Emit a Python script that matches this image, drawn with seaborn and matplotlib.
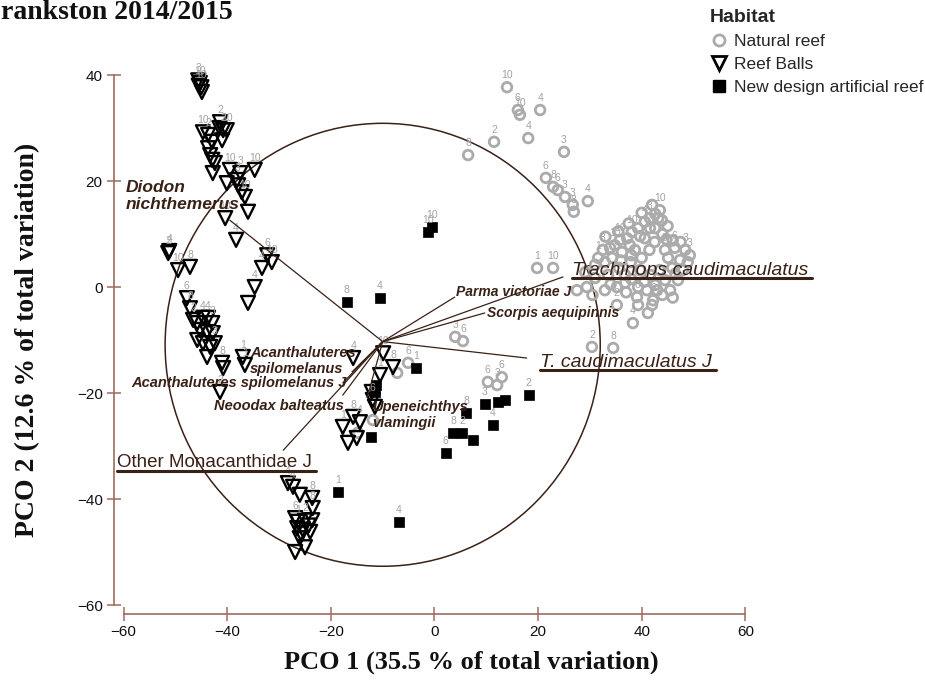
import pandas as pd
import matplotlib
matplotlib.use('Agg')
import matplotlib.pyplot as plt
from matplotlib.lines import Line2D
from matplotlib.patches import Ellipse
import seaborn as sns

# PCO scores, one set of lists per habitat
nat_x = [14.0, 16.1, 16.5, 20.4, 18.1, 11.5, 6.5, 25.0, 21.5, 22.9, 23.8, 25.2, 26.7, 26.9, 29.6,
         19.8, 22.9, 27.5, 29.4, 32.9, 35.2, 36.8, 39.3, 41.0, 43.0, 39.1, 42.2, 39.3, 42.0, 38.3,
         41.2, 35.2, 30.4, 34.5,
         31.6, 32.5, 33.9, 34.8, 35.8, 37.2, 38.1, 39.3, 40.6, 41.6, 42.6, 43.5, 43.2, 41.6, 39.7,
         37.7, 36.2, 34.3, 32.9, 31.0, 40.6, 42.6, 43.9, 38.7,
         44.5, 46.4, 48.4, 49.3, 45.1, 47.4, 48.9, 45.9, 48.0, 43.5, 41.6, 44.5, 47.0, 42.6, 45.5,
         39.7, 37.9, 35.6, 33.5, 31.0, 29.1, 36.8,
         36.0, 38.0, 40.0, 41.5, 42.5, 44.0, 45.0, 44.8, 46.0, 47.5, 46.5, 44.0, 46.0, 40.5, 38.0,
         34.0, 30.5, 37.0, 33.0, 35.5, 37.5, 40.0, 42.0,
         4.0, 5.5, -5.1, -7.2, 10.3, 13.0, 12.1, -11.9, -14.8]
nat_y = [37.7, 33.4, 32.5, 33.4, 28.1, 27.4, 24.9, 25.5, 20.6, 18.9, 18.3, 17.0, 15.5, 14.2, 16.2,
         3.6, 3.6, -0.6, 0.0, -0.6, 0.0, 0.8, 0.0, -0.6, -0.6, -1.9, -2.5, -3.4, -3.4, -6.8,
         -4.9, -3.4, -11.3, -11.5,
         5.5, 7.0, 7.4, 7.9, 8.9, 9.2, 10.4, 11.1, 12.3, 13.0, 13.8, 14.5, 13.0, 11.1, 9.6,
         7.9, 6.6, 5.5, 4.7, 4.2, 9.2, 11.1, 12.6, 7.0,
         7.0, 7.4, 7.0, 6.0, 5.5, 5.1, 4.7, 3.6, 3.2, 3.2, 2.3, 1.3, 1.3, 0.4, -0.6,
         3.2, 4.7, 3.6, 2.3, 1.7, 2.8, 2.3,
         5.0, 6.0, 5.5, 7.0, 8.5, 10.0, 11.5, 9.0, 8.8, 8.5, 2.5, -1.5, -2.0, 1.0, 1.5,
         0.5, -1.5, -1.0, 9.5, 10.5, 12.0, 14.0, 15.5,
         -9.4, -10.2, -14.3, -16.2, -17.9, -17.0, -18.5, -25.1, -27.5]
nat_lab = ['10', '6', '10', '4', '4', '2', '8', '3', '6', '8', '6', '3', '3', '8', '4',
           '1', '10', '', '', '', '', '', '', '', '', '8', '6', '', '', '4',
           '', '2', '2', '8',
           '1', '8', '', '10', '10', '', '10', '', '4', '3', '', '10', '', '', '',
           '', '', '', '', '', '', '', '', '',
           '3', '6', '3', '3', '', '', '', '', '', '', '', '', '', '', '',
           '', '', '', '', '', '', '',
           '', '', '', '', '', '', '', '', '', '', '', '', '', '', '',
           '', '', '', '', '', '', '', '',
           '3', '6', '6', '', '6', '6', '3', '', '']

rb_x = [-45.6, -45.3, -45.0, -44.9, -45.5,
        -44.7, -43.7, -41.4, -40.8, -40.1, -41.0, -42.9, -41.5,
        -43.7, -43.3, -42.9, -42.4, -42.8,
        -39.5, -37.5, -34.7, -40.1, -38.1, -37.9, -37.2, -36.6, -36.0, -40.4, -38.3,
        -32.3, -31.4, -33.3, -34.7, -36.0,
        -51.4, -51.2, -49.5, -47.2,
        -47.8, -47.2, -46.6, -45.8, -44.7, -43.7, -42.9, -45.3, -43.9, -42.8, -45.8, -44.7,
        -43.3, -42.4, -43.9, -41.0, -40.8, -41.4, -37.0, -36.6,
        -15.7, -9.9, -8.0, -10.5, -12.1, -11.9, -11.5, -15.7, -14.4, -17.7, -15.0, -16.7,
        -28.3, -27.3, -26.0, -23.6, -23.5, -26.9, -26.4, -25.0, -23.6, -26.5, -25.4, -24.0,
        -26.0, -25.0, -26.9, -24.3, -25.8]
rb_y = [39.0, 38.5, 37.7, 36.8, 38.0,
        29.2, 28.7, 31.1, 29.6, 29.6, 27.7, 27.4, 30.0,
        26.2, 24.9, 24.0, 23.4, 21.5,
        22.1, 21.5, 22.1, 19.6, 20.2, 19.2, 17.9, 17.0, 14.2, 13.0, 8.9,
        6.0, 4.7, 3.6, 0.0, -3.0,
        6.4, 6.8, 3.2, 3.8,
        -2.1, -4.0, -6.2, -6.8, -5.8, -5.8, -6.8, -8.1, -8.5, -8.7, -10.0, -10.6,
        -11.3, -10.6, -13.2, -14.3, -15.3, -19.8, -13.2, -14.7,
        -13.4, -12.5, -15.1, -16.6, -19.8, -21.3, -22.6, -24.5, -25.5, -26.4, -28.5, -29.4,
        -37.0, -37.7, -39.2, -39.8, -41.7, -43.6, -44.3, -44.0, -44.0, -45.5, -45.8, -46.2,
        -47.4, -49.1, -50.0, -45.0, -46.5]
rb_lab = ['3', '10', '10', '', '',
          '10', '2', '2', '2', '10', '', '', '',
          '', '', '', '', '',
          '10', '3', '10', '', '3', '', '', '10', '', '10', '4',
          '6', '10', '4', '4', '',
          '2', '4', '10', '8',
          '6', '8', '2', '', '4', '4', '3', '', '', '', '', '',
          '', '3', '', '8', '', '2', '1', '1',
          '4', '10', '8', '1', '', '6', '', '8', '4', '1', '', '',
          '4', '4', '', '8', '8', '6', '1', '2', '', '', '', '',
          '', '', '', '', '']

nd_x = [-16.9, -10.5, -1.3, -0.5, -3.6, -11.3, -11.5, -12.3, 6.1, 9.7, 12.3, 13.6, 18.2, 11.3,
        3.6, 5.3, 7.4, 2.2, -18.6, -6.9]
nd_y = [-2.8, -2.1, 10.4, 11.3, -15.3, -18.5, -19.8, -28.3, -23.8, -22.1, -21.7, -21.3, -20.4, -26.0,
        -27.5, -27.5, -28.9, -31.3, -38.7, -44.3]
nd_lab = ['8', '4', '10', '10', '1', '', '', '', '8', '3', '', '', '2', '4',
          '8', '2', '', '6', '1', '4']

# species vectors (end points), all drawn from the same origin
vec_origin = (-10.0, -10.3)
vec_names = ['Diodon nichthemerus', 'Acanthaluteres spilomelanus', 'Acanthaluteres spilomelanus J',
             'Neoodax balteatus', 'Upeneichthys vlamingii', 'Other Monacanthidae J',
             'Parma victoriae J', 'Scorpis aequipinnis', 'T. caudimaculatus J',
             'Trachinops caudimaculatus']
vec_x = [-39.5, -15.9, -17.7, -17.7, -13.0, -29.2, 3.9, 9.7, 17.8, 24.8]
vec_y = [12.6, -16.0, -18.1, -20.4, -20.9, -30.8, -1.9, -4.9, -13.4, 1.9]
circle_r = 42

habitats = ['Natural reef', 'Reef Balls', 'New design artificial reef']

df = pd.concat([
    pd.DataFrame({'x': nat_x, 'y': nat_y, 'lab': nat_lab, 'habitat': habitats[0]}),
    pd.DataFrame({'x': rb_x, 'y': rb_y, 'lab': rb_lab, 'habitat': habitats[1]}),
    pd.DataFrame({'x': nd_x, 'y': nd_y, 'lab': nd_lab, 'habitat': habitats[2]}),
], ignore_index=True)

sns.set_theme(style='white')
plt.rcParams['font.family'] = ['Liberation Sans', 'DejaVu Sans']

BROWN = '#9c6d5e'
DARK = '#3a2116'
GREY_PT = '#ababab'
GREY_LAB = '#a3a3a3'

fig = plt.figure(figsize=(9.25, 6.84), dpi=100)
ax = fig.add_axes([0.1225, 0.1, 0.6944, 0.8058])

sns.scatterplot(data=df[df.habitat == habitats[0]], x='x', y='y', marker='o', s=48,
                facecolors='none', edgecolor=GREY_PT, linewidth=2.0, ax=ax, legend=False, zorder=2)
sns.scatterplot(data=df[df.habitat == habitats[1]], x='x', y='y', marker='v', s=100,
                facecolors='none', edgecolor='black', linewidth=1.7, ax=ax, legend=False, zorder=3)
sns.scatterplot(data=df[df.habitat == habitats[2]], x='x', y='y', marker='s', s=58,
                color='black', edgecolor='black', linewidth=0.5, ax=ax, legend=False, zorder=3)

# sample labels
for _, r in df[df.lab != ''].iterrows():
    ax.annotate(r['lab'], (r['x'], r['y']), xytext=(0, 5), textcoords='offset points',
                ha='center', va='bottom', fontsize=7.5, color=GREY_LAB, zorder=4)

# correlation circle and vectors
ax.add_patch(Ellipse((vec_origin[0], -10.9), 2 * circle_r, 2 * circle_r * 0.995, fill=False,
                     edgecolor=DARK, lw=1.1, zorder=1))
for vx, vy in zip(vec_x, vec_y):
    ax.plot([vec_origin[0], vx], [vec_origin[1], vy], color=DARK, lw=0.9, zorder=5)

# label layout: x, y, ha, text, size, style, weight, underline
lab_layout = {
    'Diodon nichthemerus': (-59.7, 17.2, 'left', 'Diodon\nnichthemerus', 12.5, 'italic', 'bold', False),
    'Acanthaluteres spilomelanus': (-35.6, -14.0, 'left', 'Acanthaluteres\nspilomelanus', 10.5, 'italic', 'bold', False),
    'Acanthaluteres spilomelanus J': (-16.9, -18.1, 'right', 'Acanthaluteres spilomelanus J', 10.5, 'italic', 'bold', False),
    'Neoodax balteatus': (-17.5, -22.5, 'right', 'Neoodax balteatus', 10.5, 'italic', 'bold', False),
    'Upeneichthys vlamingii': (-12.1, -24.2, 'left', 'Upeneichthys\nvlamingii', 10.5, 'italic', 'bold', False),
    'Other Monacanthidae J': (-61.3, -33.2, 'left', 'Other Monacanthidae J', 13.5, 'normal', 'normal', True),
    'Parma victoriae J': (4.1, -0.9, 'left', 'Parma victoriae J', 10, 'italic', 'bold', False),
    'Scorpis aequipinnis': (10.1, -4.9, 'left', 'Scorpis aequipinnis', 10, 'italic', 'bold', False),
    'T. caudimaculatus J': (20.4, -14.2, 'left', 'T. caudimaculatus J', 14, 'italic', 'normal', True),
    'Trachinops caudimaculatus': (26.5, 3.2, 'left', 'Trachinops caudimaculatus', 14, 'italic', 'normal', True),
}
underlined = []
for name in vec_names:
    tx, ty, ha, txt, size, style, weight, ul = lab_layout[name]
    t = ax.text(tx, ty, txt, ha=ha, va='center', fontsize=size, style=style, weight=weight,
                color=DARK, linespacing=1.15, zorder=6, clip_on=False)
    if ul:
        underlined.append(t)

ax.set_xlim(-62, 62)
ax.set_ylim(-62, 42)
ax.set_xticks([-60, -40, -20, 0, 20, 40, 60])
ax.set_yticks([-60, -40, -20, 0, 20, 40])
sns.despine(ax=ax)
ax.spines['left'].set_position(('data', -61.9))
ax.spines['left'].set_bounds(-60, 40)
ax.spines['bottom'].set_position(('data', -61.7))
ax.spines['bottom'].set_bounds(-60, 60)
for sp in ['left', 'bottom']:
    ax.spines[sp].set_color(BROWN)
    ax.spines[sp].set_linewidth(1.2)
ax.tick_params(direction='inout', length=10, width=1.1, color=BROWN, labelsize=11,
               labelcolor='#111111', left=True, bottom=True, pad=3)
ax.set_xlabel('')
ax.set_ylabel('')
ax.patch.set_alpha(0)

serif = ['Liberation Serif', 'DejaVu Serif']
fig.text(471 / 925, 1 - 662 / 684, 'PCO 1 (35.5 % of total variation)', ha='center', va='center',
         fontsize=19, weight='bold', family=serif, color='#111111')
fig.text(28 / 925, 1 - 340 / 684, 'PCO 2 (12.6 % of total variation)', ha='center', va='center',
         rotation=90, fontsize=20, weight='bold', family=serif, color='#111111')
fig.text(-16 / 925, 1 - 19 / 684, 'Frankston 2014/2015', ha='left', va='baseline',
         fontsize=20, weight='bold', family=serif, color='#111111')

handles = [
    Line2D([], [], ls='none', marker='o', ms=8, mfc='none', mec=GREY_PT, mew=2),
    Line2D([], [], ls='none', marker='v', ms=10, mfc='none', mec='black', mew=2),
    Line2D([], [], ls='none', marker='s', ms=8, mfc='black', mec='black'),
]
ax.legend(handles, habitats, loc='upper left', bbox_to_anchor=(703 / 925, 1 - 2 / 684),
          bbox_transform=fig.transFigure, frameon=False, title='Habitat', alignment='left',
          fontsize=12.5, title_fontproperties={'weight': 'bold', 'size': 14},
          handletextpad=0.4, labelspacing=0.45, handlelength=1.0, borderaxespad=0)

# underline selected vector labels, just under the baseline
fig.canvas.draw()
rend = fig.canvas.get_renderer()
inv = fig.transFigure.inverted()
for t in underlined:
    bb = t.get_window_extent(rend)
    (x0, y0), (x1, _) = inv.transform([(bb.x0, bb.y0 + 0.5), (bb.x1 + 4, bb.y0)])
    fig.add_artist(Line2D([x0, x1], [y0, y0], transform=fig.transFigure, color=DARK, lw=2.2))

fig.savefig('out.png', dpi=100)
